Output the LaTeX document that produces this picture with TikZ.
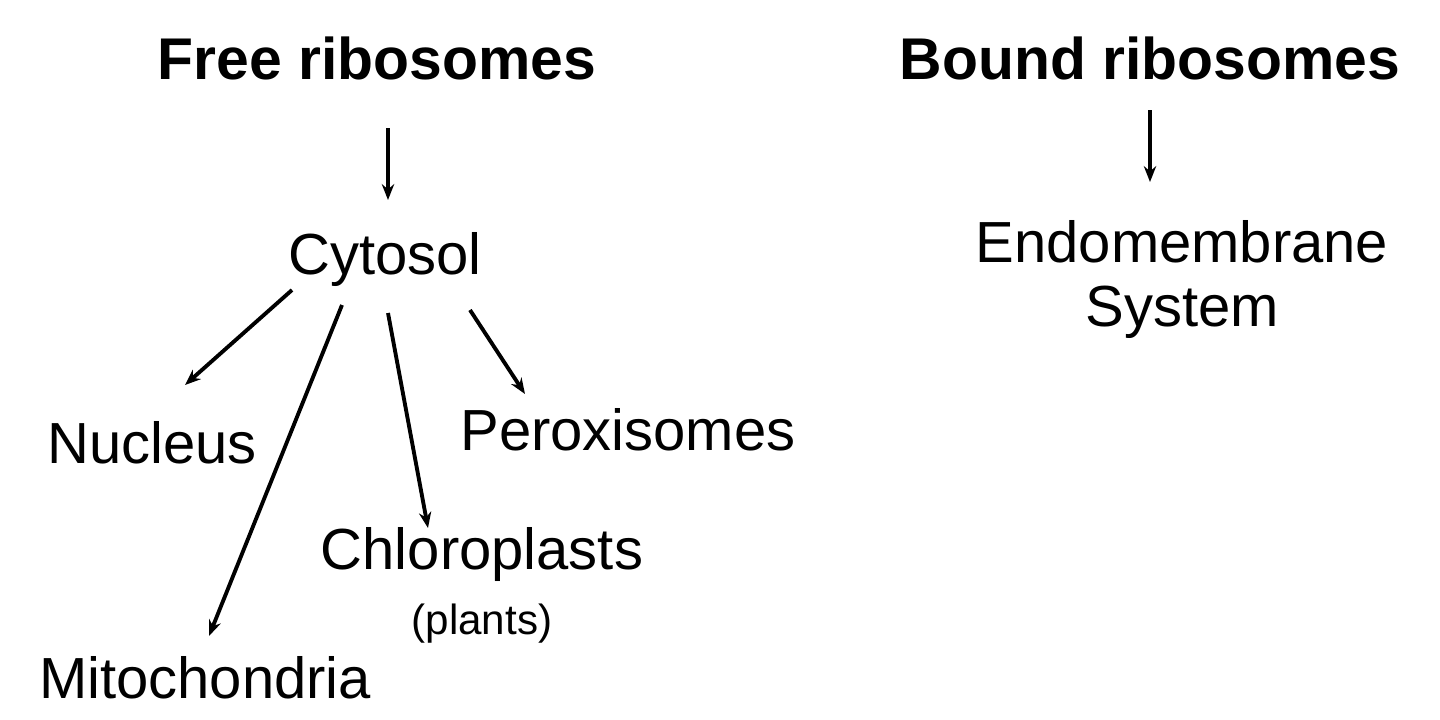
\documentclass[tikz,border=0pt]{standalone}
\usepackage{fontspec}
\setmainfont{Liberation Sans}
\usetikzlibrary{arrows.meta}
\begin{document}
\begin{tikzpicture}[x=0.02cm,y=-0.02cm,
  lab/.style={inner sep=0pt,font=\fontsize{33}{36}\selectfont},
  ttl/.style={inner sep=0pt,font=\fontsize{33.5}{36}\selectfont\bfseries},
  sm/.style={inner sep=0pt,font=\fontsize{24}{26}\selectfont},
  arr/.style={-{Stealth[length=9pt,width=7pt]},line width=2.2pt}]
\useasboundingbox (0,0) rectangle (1440,720);
\node[ttl] (free) at (377,58) {Free ribosomes};
\node[ttl] (bound) at (1150,58) {Bound ribosomes};
\node[lab] (cyt) at (385,260) {Cytosol};
\node[lab] (endo) at (1182,242) {Endomembrane};
\node[lab] (sys) at (1182,312) {System};
\node[lab] (nuc) at (152,443) {Nucleus};
\node[lab] (per) at (628,430) {Peroxisomes};
\node[lab] (chl) at (482,555) {Chloroplasts};
\node[sm] (pl) at (482,624) {(plants)};
\node[lab] (mit) at (205,678) {Mitochondria};
\coordinate (a1) at (388,128); \coordinate (a2) at (388,200);
\coordinate (b1) at (1150,110); \coordinate (b2) at (1150,182);
\coordinate (c1) at (292,290); \coordinate (c2) at (185,385);
\coordinate (d1) at (342,305); \coordinate (d2) at (209,636);
\coordinate (e1) at (388,313); \coordinate (e2) at (428,528);
\coordinate (f1) at (470,310); \coordinate (f2) at (525,394);
\draw[arr] (a1) -- (a2);
\draw[arr] (b1) -- (b2);
\draw[arr] (c1) -- (c2);
\draw[arr] (d1) -- (d2);
\draw[arr] (e1) -- (e2);
\draw[arr] (f1) -- (f2);
\end{tikzpicture}
\end{document}
